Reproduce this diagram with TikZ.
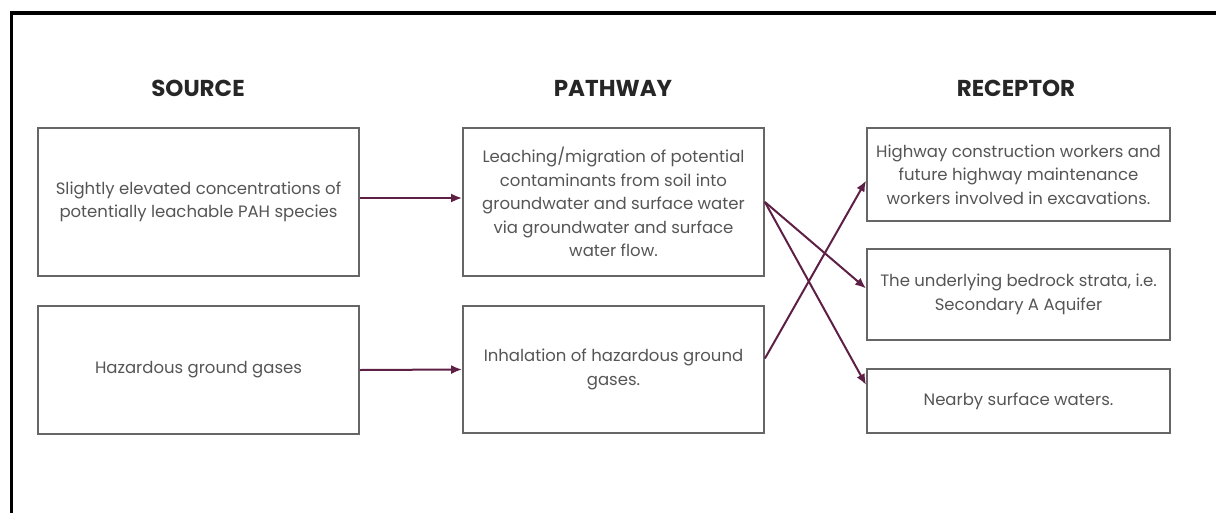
\documentclass[tikz,border=0pt]{standalone}
\usepackage{fontspec}
\setmainfont{Poppins}
\usetikzlibrary{arrows.meta}
\definecolor{plum}{HTML}{5E1F45}
\definecolor{boxgray}{HTML}{666666}
\definecolor{txtgray}{HTML}{555555}
\tikzset{
  heading/.style={font=\fontsize{23}{26}\selectfont\bfseries, text=black!85},
  stagebox/.style={draw=boxgray, line width=1.8pt, align=center, text=txtgray,
    font=\fontsize{16.5}{23.5}\selectfont, inner sep=0pt},
  link/.style={plum, line width=2pt, -{Latex[length=11pt,width=9pt]}}
}
\begin{document}
\begin{tikzpicture}[x=1pt,y=-1pt]
	\useasboundingbox (0,0) rectangle (1216,512);
	% frame
	\draw[line width=3.5pt] (11.7,520) -- (11.7,13) -- (1230,13);

	% headings
	\node[heading] (hsrc) at (198,88) {SOURCE};
	\node[heading] (hpath) at (613,88) {PATHWAY};
	\node[heading] (hrec) at (1016,88) {RECEPTOR};

	% source boxes
	\node[stagebox, minimum width=321pt, minimum height=148pt] (src1) at (198.5,202)
		{Slightly elevated concentrations of\\potentially leachable PAH species};
	\node[stagebox, minimum width=321pt, minimum height=128pt] (src2) at (198.5,370)
		{Hazardous ground gases};

	% pathway boxes
	\node[stagebox, minimum width=301pt, minimum height=148pt] (path1) at (613.5,202)
		{Leaching/migration of potential\\contaminants from soil into\\groundwater and surface water\\via groundwater and surface\\water flow.};
	\node[stagebox, minimum width=301pt, minimum height=127pt] (path2) at (613.5,369.5)
		{Inhalation of hazardous ground\\gases.};

	% receptor boxes
	\node[stagebox, minimum width=303pt, minimum height=93pt] (rec1) at (1018.5,174.5)
		{Highway construction workers and\\future highway maintenance\\workers involved in excavations.};
	\node[stagebox, minimum width=303pt, minimum height=91pt] (rec2) at (1018.5,294.5)
		{The underlying bedrock strata, i.e.\\Secondary A Aquifer};
	\node[stagebox, minimum width=303pt, minimum height=64pt] (rec3) at (1018.5,401)
		{Nearby surface waters.};

	% links
	\draw[link] ([yshift=4pt]src1.east) -- ([yshift=4pt]path1.west);
	\draw[link] (src2.east) -- (path2.west);
	\draw[link] (path1.east) -- ([yshift=6pt]rec2.west);
	\draw[link] (path1.east) -- ([yshift=16pt]rec3.west);
	\draw[link] ([yshift=11pt]path2.east) -- ([yshift=-6pt]rec1.west);
\end{tikzpicture}
\end{document}
